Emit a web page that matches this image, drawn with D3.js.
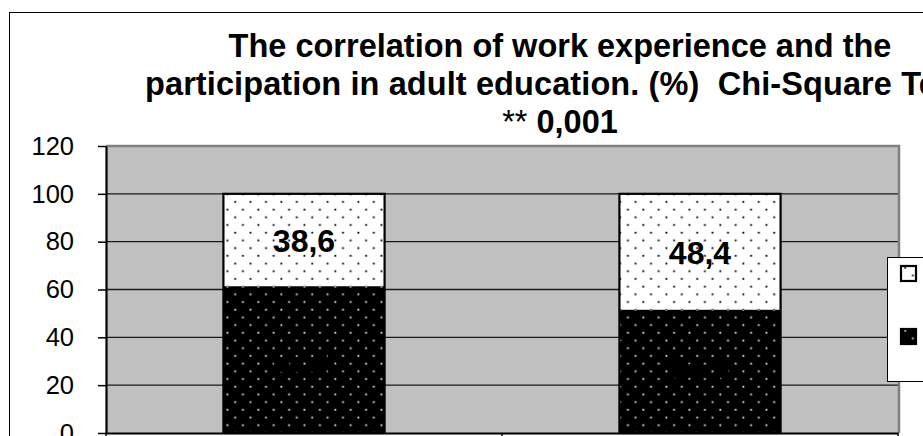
<!DOCTYPE html>
<html>
<head>
<meta charset="utf-8">
<script src="https://cdn.jsdelivr.net/npm/d3@7"></script>
<style>
  body { margin: 0; background: #fff; }
  svg { display: block; font-family: Arial, "Liberation Sans", sans-serif; }
</style>
</head>
<body>
<div id="chart"></div>
<script>
// values (%), each bar adds up to 100
const categories = ["shorter work experience", "longer work experience"];
const seriesNames = ["did not participate", "participated"]; // bottom (black), top (white)
const notParticipated = [61.4, 51.6];
const participated = [38.6, 48.4];
const yTicks = [0, 20, 40, 60, 80, 100, 120];
const titleLines = [
  "The correlation of work experience and the",
  "participation in adult education. (%)  Chi-Square Test",
  "0,001"
];

const width = 923, height = 436;
const plot = {left: 106, top: 146, right: 898, bottom: 433};

const rows = categories.map((c, i) => ({
  category: c,
  [seriesNames[0]]: notParticipated[i],
  [seriesNames[1]]: participated[i]
}));
const stacked = d3.stack().keys(seriesNames)(rows);

// scales
const x = d3.scaleBand()
    .domain(categories)
    .range([plot.left, plot.right])
    .paddingInner(0.593)
    .paddingOuter(0.593 / 2);
const y = d3.scaleLinear().domain([0, 120]).range([plot.bottom, plot.top]);

const svg = d3.select("#chart").append("svg")
    .attr("width", width)
    .attr("height", height);

// dotted fills, like the old excel patterns
const defs = svg.append("defs");
function dotPattern(id, bg, fg) {
  const s = 15.4;
  const p = defs.append("pattern")
      .attr("id", id)
      .attr("patternUnits", "userSpaceOnUse")
      .attr("width", s)
      .attr("height", s);
  p.append("rect").attr("width", s).attr("height", s).attr("fill", bg);
  p.append("rect").attr("x", 3.3).attr("y", 0.8).attr("width", 1.8).attr("height", 1.8).attr("fill", fg);
  p.append("rect").attr("x", 11).attr("y", 8.5).attr("width", 1.8).attr("height", 1.8).attr("fill", fg);
}
dotPattern("dots-black", "#000", "#e0e0e0");
dotPattern("dots-white", "#fff", "#000");
const fills = ["url(#dots-black)", "url(#dots-white)"];
const labelColors = ["#000", "#000"];

// chart frame (runs off the right and bottom edge)
svg.append("rect")
    .attr("x", 9.5).attr("y", 12.5)
    .attr("width", 1101).attr("height", 600)
    .attr("fill", "#fff")
    .attr("stroke", "#000")
    .attr("stroke-width", 1);

// title (keep the double space before "Chi-Square")
const keepSpaces = s => s.replace(/  /g, " \u00a0");
const title = svg.append("g")
    .attr("font-weight", "bold")
    .attr("font-size", "32.5px");
title.append("text").attr("x", 560).attr("y", 57).attr("text-anchor", "middle").text(titleLines[0]);
title.append("text").attr("x", 145).attr("y", 95)
    .attr("letter-spacing", 0.1)
    .text(keepSpaces(titleLines[1]));
const t3 = title.append("text").attr("x", 560).attr("y", 133).attr("text-anchor", "middle");
t3.append("tspan").attr("font-weight", "normal").text("** ");
t3.append("tspan").text(titleLines[2]);

// plot area
svg.append("rect")
    .attr("x", plot.left).attr("y", plot.top)
    .attr("width", plot.right - plot.left)
    .attr("height", plot.bottom - plot.top)
    .attr("fill", "#c0c0c0");

svg.append("g")
    .attr("stroke", "#1a1a1a")
    .attr("stroke-width", 1.4)
  .selectAll("line")
  .data(yTicks.filter(d => d > 0 && d < 120))
  .join("line")
    .attr("x1", plot.left)
    .attr("x2", plot.right)
    .attr("y1", d => y(d))
    .attr("y2", d => y(d));

svg.append("path")
    .attr("d", `M${plot.left},${plot.top}H${plot.right + 1}V${plot.bottom}`)
    .attr("fill", "none")
    .attr("stroke", "#808080")
    .attr("stroke-width", 2.5);

// bars
const series = svg.append("g")
  .selectAll("g")
  .data(stacked)
  .join("g")
    .attr("fill", (d, i) => fills[i]);

series.selectAll("rect")
  .data(d => d)
  .join("rect")
    .attr("x", d => x(d.data.category))
    .attr("y", d => y(d[1]))
    .attr("width", x.bandwidth())
    .attr("height", d => y(d[0]) - y(d[1]));

svg.append("g")
    .attr("fill", "none")
    .attr("stroke", "#000")
    .attr("stroke-width", 2.2)
  .selectAll("rect")
  .data(rows)
  .join("rect")
    .attr("x", d => x(d.category))
    .attr("y", d => y(d[seriesNames[0]] + d[seriesNames[1]]))
    .attr("width", x.bandwidth())
    .attr("height", d => y(0) - y(d[seriesNames[0]] + d[seriesNames[1]]));

// value labels (the ones on black are black too, as in the original)
series.append("g")
    .attr("fill", (d, i) => labelColors[i])
    .attr("font-weight", "bold")
    .attr("font-size", "32px")
    .attr("text-anchor", "middle")
  .selectAll("text")
  .data(d => d)
  .join("text")
    .attr("x", d => x(d.data.category) + x.bandwidth() / 2)
    .attr("y", d => (y(d[0]) + y(d[1])) / 2 + 12)
    .text(d => d3.format(".1f")(d[1] - d[0]).replace(".", ","));

// axes
const yAxis = svg.append("g")
    .attr("transform", `translate(${plot.left},0)`)
    .call(d3.axisLeft(y).tickValues(yTicks).tickSize(8).tickSizeOuter(0).tickPadding(24));
yAxis.select(".domain").attr("stroke-width", 2.2);
yAxis.selectAll(".tick line").attr("stroke-width", 1.5);
yAxis.selectAll(".tick text")
    .attr("font-size", "25.5px")
    .attr("font-family", "Arial, 'Liberation Sans', sans-serif")
    .attr("fill", "#000");

// category names sit below the visible area, so only the line and ticks show
const xAxis = svg.append("g")
    .attr("transform", `translate(0,${plot.bottom})`)
    .call(d3.axisBottom(x).tickSize(0).tickSizeOuter(0).tickFormat(() => ""));
xAxis.select(".domain").attr("stroke-width", 2.2);
xAxis.selectAll(".bound")
  .data(d3.range(categories.length + 1))
  .join("line")
    .attr("class", "bound")
    .attr("stroke", "#000")
    .attr("stroke-width", 1.5)
    .attr("x1", i => plot.left + i * x.step())
    .attr("x2", i => plot.left + i * x.step())
    .attr("y1", 0)
    .attr("y2", 8);

// legend (cut by the right edge, its names fall outside the picture)
const legend = svg.append("g").attr("transform", "translate(887,257)");
legend.append("rect")
    .attr("x", 0.5).attr("y", 0.5)
    .attr("width", 220).attr("height", 124)
    .attr("fill", "#fff")
    .attr("stroke", "#000");
const item = legend.selectAll(".item")
  .data(seriesNames.slice().reverse())
  .join("g")
    .attr("class", "item")
    .attr("transform", (d, i) => `translate(14,${9 + i * 63})`);
item.append("rect")
    .attr("width", 15).attr("height", 15)
    .attr("fill", d => fills[seriesNames.indexOf(d)])
    .attr("stroke", "#000")
    .attr("stroke-width", 2.2);
item.append("text")
    .attr("x", 60).attr("y", 14)
    .attr("font-size", "25px")
    .text(d => d);
</script>
</body>
</html>
